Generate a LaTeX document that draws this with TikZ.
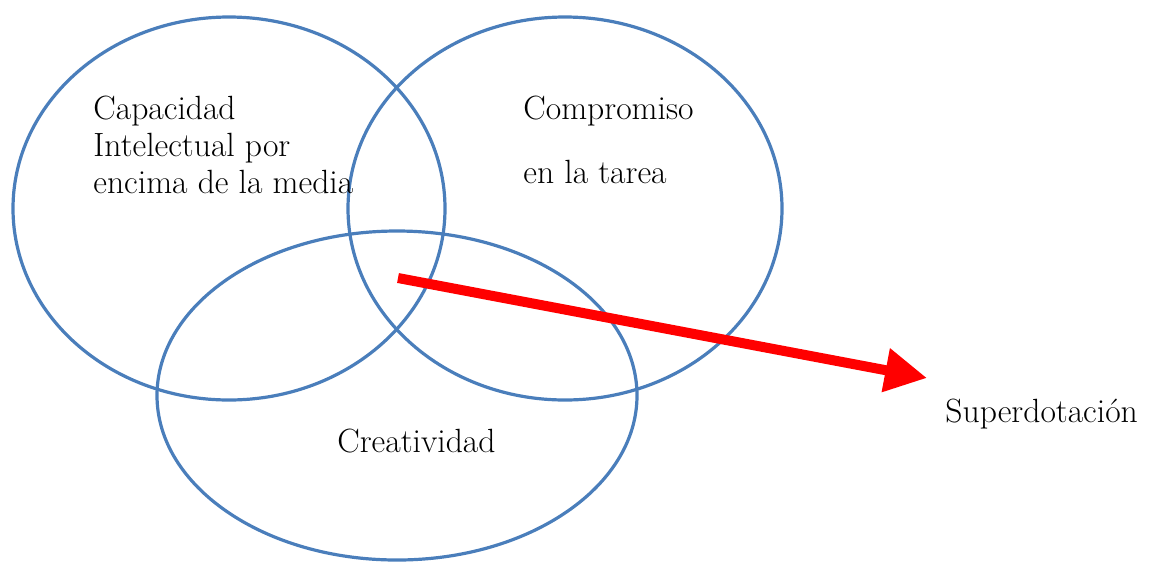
\documentclass[tikz,border=0pt]{standalone}
\usetikzlibrary{arrows.meta}
\definecolor{vennblue}{HTML}{4A7EBB}
\begin{document}
\begin{tikzpicture}[x=0.5pt,y=-0.5pt,
  venn/.style={draw=vennblue,line width=1.6pt},
  lbl/.style={inner sep=0pt,anchor=base west,font=\fontsize{16.8}{20}\selectfont},
  bigarrow/.style={draw=red,line width=5pt,-{Triangle[length=21pt,width=21pt]}}]
\useasboundingbox (0,0) rectangle (1159,563);
% ellipses
\draw[venn] (229,208.5) ellipse [x radius=216, y radius=191.5];
\draw[venn] (565,208.5) ellipse [x radius=217, y radius=191.5];
\draw[venn] (397,395.5) ellipse [x radius=240, y radius=164.5];
% texts
\node[lbl] (cap1) at (93,119) {Capacidad};
\node[lbl] (cap2) at (93,156) {Intelectual por};
\node[lbl] (cap3) at (93,193) {encima de la media};
\node[lbl] (com1) at (523,119) {Compromiso};
\node[lbl] (com2) at (523,183) {en la tarea};
\node[lbl] (cre) at (337,452) {Creatividad};
\node[lbl] (sup) at (945,422) {Superdotación};
% arrow
\coordinate (s) at (398,278);
\coordinate (t) at (927,378);
\draw[bigarrow] (s) -- (t);
\end{tikzpicture}
\end{document}
